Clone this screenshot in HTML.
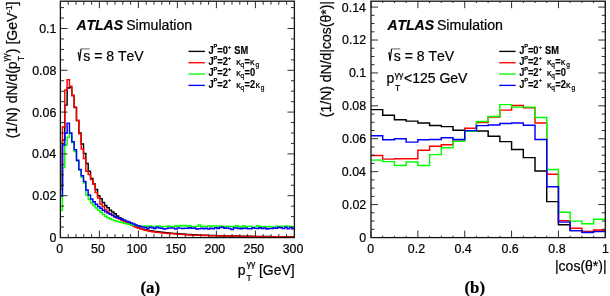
<!DOCTYPE html>
<html><head><meta charset="utf-8"><title>ATLAS spin plots</title><style>
html,body{margin:0;padding:0;background:#fff;width:610px;height:296px;overflow:hidden}
svg{display:block;will-change:transform}
text{font-family:"Liberation Sans",sans-serif;fill:#000;font-kerning:none;stroke:#000;stroke-width:0.22px}
.t{font-size:12.4px}
.ti{font-size:14px}
.lg{font-size:9.8px;font-weight:bold}
.h{fill:none;stroke-width:1.45px;stroke-linejoin:miter;stroke-linecap:butt}
.ax{fill:none;stroke:#111;stroke-width:1.3px}
.tk{fill:none;stroke:#222;stroke-width:0.95px}
</style></head><body>
<svg width="610" height="296" viewBox="0 0 610 296">
<path class="h" stroke="black" d="M60.1 186H62.44V140H64.78V105.1H67.12V88H69.46V87.5H71.8V95.5H74.14V107.6H76.48V120.5H78.82V133H81.16V144H83.5V153.5H85.84V163.5H88.18V171.3H90.52V178.4H92.86V184H95.2V189.5H97.54V195.7H99.88V198.7H102.22V202.4H104.56V205.4H106.9V207.8H109.24V210.3H111.58V211.98H113.92V213.82H116.26V215.95H118.6V217.69H120.94V219.08H123.28V220.4H125.62V221.66H127.96V222.89H130.3V224.13H132.64V225.43H134.98V226.66H137.32V227.64H139.66V228.44H142V229.13H144.34V229.71H146.68V230.22H149.02V230.68H151.36V231.08H153.7V231.44H156.04V231.75H158.38V232.03H160.72V232.3H163.06V232.54H165.4V232.76H167.74V232.98H170.08V233.18H172.42V233.37H174.76V233.56H177.1V233.74H179.44V233.91H181.78V234.08H184.12V234.25H186.46V234.4H188.8V234.55H191.14V234.68H193.48V234.81H195.82V234.92H198.16V235.02H200.5V235.12H202.84V235.21H205.18V235.3H207.52V235.38H209.86V235.45H212.2V235.52H214.54V235.59H216.88V235.65H219.22V235.71H221.56V235.77H223.9V235.83H226.24V235.89H228.58V235.94H230.92V235.99H233.26V236.04H235.6V236.08H237.94V236.13H240.28V236.17H242.62V236.21H244.96V236.24H247.3V236.28H249.64V236.32H251.98V236.35H254.32V236.39H256.66V236.42H259V236.45H261.34V236.49H263.68V236.52H266.02V236.55H268.36V236.58H270.7V236.61H273.04V236.63H275.38V236.66H277.72V236.68H280.06V236.7H282.4V236.73H284.74V236.75H287.08V236.76H289.42V236.78H291.76V236.79H294.1"/>
<path class="h" stroke="red" d="M60.1 189.4H62.44V126.9H64.78V90H67.12V79.75H69.46V86.25H71.8V95.5H74.14V106.9H76.48V120.5H78.82V133.75H81.16V149H83.5V158.5H85.84V171.3H88.18V174.5H90.52V179.6H92.86V184.3H95.2V192.5H97.54V198H99.88V204H102.22V206.6H104.56V210H106.9V212H109.24V213.73H111.58V215.31H113.92V216.72H116.26V217.91H118.6V219.1H120.94V220.3H123.28V221.52H125.62V222.75H127.96V223.94H130.3V225.04H132.64V226.08H134.98V227.05H137.32V227.94H139.66V228.78H142V229.55H144.34V230.2H146.68V230.75H149.02V231.24H151.36V231.67H153.7V232.04H156.04V232.35H158.38V232.62H160.72V232.88H163.06V233.11H165.4V233.32H167.74V233.51H170.08V233.7H172.42V233.87H174.76V234.04H177.1V234.2H179.44V234.35H181.78V234.5H184.12V234.64H186.46V234.77H188.8V234.9H191.14V235.01H193.48V235.12H195.82V235.22H198.16V235.3H200.5V235.39H202.84V235.46H205.18V235.53H207.52V235.6H209.86V235.67H212.2V235.73H214.54V235.79H216.88V235.85H219.22V235.91H221.56V235.97H223.9V236.03H226.24V236.09H228.58V236.14H230.92V236.19H233.26V236.24H235.6V236.29H237.94V236.33H240.28V236.37H242.62V236.41H244.96V236.44H247.3V236.47H249.64V236.5H251.98V236.54H254.32V236.57H256.66V236.6H259V236.63H261.34V236.66H263.68V236.68H266.02V236.71H268.36V236.74H270.7V236.76H273.04V236.78H275.38V236.8H277.72V236.82H280.06V236.84H282.4V236.86H284.74V236.87H287.08V236.88H289.42V236.89H291.76V236.9H294.1"/>
<path class="h" stroke="lime" d="M60.1 210.3H62.44V167.4H64.78V145H67.12V137.3H69.46V133.2H71.8V142.4H74.14V151.4H76.48V161.1H78.82V170H81.16V177.3H83.5V183H85.84V195H88.18V199.5H90.52V203H92.86V205.5H95.2V208H97.54V210.3H99.88V212.2H102.22V214.5H104.56V216.27H106.9V217.66H109.24V218.82H111.58V219.85H113.92V220.74H116.26V221.48H118.6V222.09H120.94V222.61H123.28V223.16H125.62V223.73H127.96V224.26H130.3V224.73H132.64V225.17H134.98V225.55H137.32V225.84H139.66V226.25H142V226.14H144.34V225.91H146.68V226.15H149.02V225.86H151.36V226.45H153.7V227.15H156.04V226.15H158.38V226.08H160.72V226.7H163.06V226.63H165.4V226.49H167.74V225.93H170.08V226.42H172.42V226.83H174.76V225.71H177.1V226.2H179.44V225.41H181.78V225.75H184.12V225.44H186.46V226.33H188.8V225.77H191.14V226.61H193.48V226.55H195.82V226.37H198.16V225.09H200.5V226.18H202.84V226.45H205.18V226.54H207.52V225.64H209.86V226.22H212.2V225.94H214.54V226.04H216.88V227.07H219.22V226.04H221.56V226.47H223.9V226.97H226.24V226.17H228.58V226.43H230.92V226.55H233.26V226.53H235.6V225.82H237.94V226.54H240.28V227.24H242.62V225.64H244.96V226.97H247.3V226.56H249.64V226.14H251.98V227.6H254.32V226.92H256.66V225.84H259V226.54H261.34V226.82H263.68V226.39H266.02V226.87H268.36V226.46H270.7V226.87H273.04V227.29H275.38V226.13H277.72V226.61H280.06V226.24H282.4V226.57H284.74V225.85H287.08V226.18H289.42V226.39H291.76V226.99H294.1"/>
<path class="h" stroke="blue" d="M60.1 195.9H62.44V144.9H64.78V133.2H67.12V123.1H69.46V133H71.8V141.7H74.14V149.8H76.48V160.3H78.82V169.5H81.16V175.7H83.5V181.4H85.84V190H88.18V195H90.52V199H92.86V201.8H95.2V204.2H97.54V206.4H99.88V208.3H102.22V210.3H104.56V211.86H106.9V213.12H109.24V214.3H111.58V215.54H113.92V216.67H116.26V217.56H118.6V218.45H120.94V219.35H123.28V220.25H125.62V221.14H127.96V222.04H130.3V222.97H132.64V223.96H134.98V224.92H137.32V225.72H139.66V226.46H142V227.12H144.34V227.56H146.68V228.41H149.02V227.24H151.36V227.67H153.7V228.54H156.04V227.11H158.38V227.96H160.72V228.17H163.06V228.92H165.4V228.62H167.74V228.07H170.08V228.05H172.42V228.12H174.76V229.11H177.1V228.04H179.44V228.11H181.78V228.48H184.12V228.23H186.46V228.19H188.8V227.69H191.14V228.3H193.48V228.07H195.82V228.96H198.16V228.69H200.5V228.32H202.84V228.7H205.18V228.15H207.52V228.92H209.86V228.34H212.2V228.67H214.54V227.64H216.88V228.55H219.22V227.43H221.56V227.24H223.9V228.2H226.24V227.87H228.58V228.46H230.92V229.61H233.26V227.92H235.6V228.04H237.94V228.49H240.28V228.65H242.62V228.29H244.96V228.27H247.3V228.77H249.64V228.68H251.98V227.82H254.32V228.35H256.66V228.41H259V227.81H261.34V228.54H263.68V227.92H266.02V228.93H268.36V228.5H270.7V228.45H273.04V228.07H275.38V228.33H277.72V227.3H280.06V227.78H282.4V228.6H284.74V227.23H287.08V228.87H289.42V227.44H291.76V228.82H294.1"/>
<path class="h" stroke="black" d="M371 109.6H382.71V115.2H394.43V119.7H406.14V121.1H417.86V123H429.57V125.4H441.29V126.6H453V130.2H464.72V130.8H476.44V130.9H488.15V136.3H499.87V141.6H511.58V149.4H523.3V157.6H535.01V170.9H546.73V201.6H558.44V224.7H570.15V230.6H581.87V231.4H593.59V231.2H605.3"/>
<path class="h" stroke="red" d="M371 155.5H382.71V159.1H394.43V158.7H406.14V158.7H417.86V150.2H429.57V146.3H441.29V144.7H453V139.8H464.72V128.2H476.44V122.5H488.15V117H499.87V110.1H511.58V105.5H523.3V107.7H535.01V122.9H546.73V174.2H558.44V220.7H570.15V228.2H581.87V231.6H593.59V230H605.3"/>
<path class="h" stroke="lime" d="M371 160.1H382.71V161.6H394.43V165.4H406.14V162H417.86V165.4H429.57V154.6H441.29V147.7H453V141.3H464.72V130.9H476.44V121.5H488.15V116.5H499.87V104.6H511.58V107.1H523.3V107.1H535.01V117.4H546.73V169.5H558.44V212.3H570.15V221.1H581.87V223.7H593.59V219.2H605.3"/>
<path class="h" stroke="blue" d="M371 135.8H382.71V139.7H394.43V138.8H406.14V142.1H417.86V139.7H429.57V139.4H441.29V137.8H453V139.4H464.72V130.6H476.44V125.6H488.15V124.9H499.87V123.5H511.58V123H523.3V125.3H535.01V139.4H546.73V186.8H558.44V222.1H570.15V230.6H581.87V232.5H593.59V231.6H605.3"/>
<rect class="ax" x="60.4" y="1.2" width="234" height="236.4"/>
<rect class="ax" x="371" y="1.2" width="234.3" height="236.4"/>
<path class="tk" d="M60.4 237.6V230.6M60.4 1.2V8.2M68.2 237.6V234.1M68.2 1.2V4.7M76 237.6V234.1M76 1.2V4.7M83.8 237.6V234.1M83.8 1.2V4.7M91.6 237.6V234.1M91.6 1.2V4.7M99.4 237.6V230.6M99.4 1.2V8.2M107.2 237.6V234.1M107.2 1.2V4.7M115 237.6V234.1M115 1.2V4.7M122.8 237.6V234.1M122.8 1.2V4.7M130.6 237.6V234.1M130.6 1.2V4.7M138.4 237.6V230.6M138.4 1.2V8.2M146.2 237.6V234.1M146.2 1.2V4.7M154 237.6V234.1M154 1.2V4.7M161.8 237.6V234.1M161.8 1.2V4.7M169.6 237.6V234.1M169.6 1.2V4.7M177.4 237.6V230.6M177.4 1.2V8.2M185.2 237.6V234.1M185.2 1.2V4.7M193 237.6V234.1M193 1.2V4.7M200.8 237.6V234.1M200.8 1.2V4.7M208.6 237.6V234.1M208.6 1.2V4.7M216.4 237.6V230.6M216.4 1.2V8.2M224.2 237.6V234.1M224.2 1.2V4.7M232 237.6V234.1M232 1.2V4.7M239.8 237.6V234.1M239.8 1.2V4.7M247.6 237.6V234.1M247.6 1.2V4.7M255.4 237.6V230.6M255.4 1.2V8.2M263.2 237.6V234.1M263.2 1.2V4.7M271 237.6V234.1M271 1.2V4.7M278.8 237.6V234.1M278.8 1.2V4.7M286.6 237.6V234.1M286.6 1.2V4.7M294.4 237.6V230.6M294.4 1.2V8.2M60.5 237.5H67.5M294.5 237.5H287.5M60.5 227.05H64M294.5 227.05H291M60.5 216.6H64M294.5 216.6H291M60.5 206.15H64M294.5 206.15H291M60.5 195.7H67.5M294.5 195.7H287.5M60.5 185.25H64M294.5 185.25H291M60.5 174.8H64M294.5 174.8H291M60.5 164.35H64M294.5 164.35H291M60.5 153.9H67.5M294.5 153.9H287.5M60.5 143.45H64M294.5 143.45H291M60.5 133H64M294.5 133H291M60.5 122.55H64M294.5 122.55H291M60.5 112.1H67.5M294.5 112.1H287.5M60.5 101.65H64M294.5 101.65H291M60.5 91.2H64M294.5 91.2H291M60.5 80.75H64M294.5 80.75H291M60.5 70.3H67.5M294.5 70.3H287.5M60.5 59.85H64M294.5 59.85H291M60.5 49.4H64M294.5 49.4H291M60.5 38.95H64M294.5 38.95H291M60.5 28.5H67.5M294.5 28.5H287.5M60.5 18.05H64M294.5 18.05H291M60.5 7.6H64M294.5 7.6H291"/>
<path class="tk" d="M371 237.6V230.6M371 1.2V8.2M382.71 237.6V235.8M382.71 1.2V3M394.43 237.6V235.8M394.43 1.2V3M406.14 237.6V235.8M406.14 1.2V3M417.86 237.6V230.6M417.86 1.2V8.2M429.57 237.6V235.8M429.57 1.2V3M441.29 237.6V235.8M441.29 1.2V3M453 237.6V235.8M453 1.2V3M464.72 237.6V230.6M464.72 1.2V8.2M476.44 237.6V235.8M476.44 1.2V3M488.15 237.6V235.8M488.15 1.2V3M499.87 237.6V235.8M499.87 1.2V3M511.58 237.6V230.6M511.58 1.2V8.2M523.3 237.6V235.8M523.3 1.2V3M535.01 237.6V235.8M535.01 1.2V3M546.73 237.6V235.8M546.73 1.2V3M558.44 237.6V230.6M558.44 1.2V8.2M570.15 237.6V235.8M570.15 1.2V3M581.87 237.6V235.8M581.87 1.2V3M593.59 237.6V235.8M593.59 1.2V3M605.3 237.6V230.6M605.3 1.2V8.2M371 237.5H378M605.3 237.5H598.3M371 229.27H374.5M605.3 229.27H601.8M371 221.04H374.5M605.3 221.04H601.8M371 212.81H374.5M605.3 212.81H601.8M371 204.59H378M605.3 204.59H598.3M371 196.36H374.5M605.3 196.36H601.8M371 188.13H374.5M605.3 188.13H601.8M371 179.9H374.5M605.3 179.9H601.8M371 171.67H378M605.3 171.67H598.3M371 163.44H374.5M605.3 163.44H601.8M371 155.21H374.5M605.3 155.21H601.8M371 146.99H374.5M605.3 146.99H601.8M371 138.76H378M605.3 138.76H598.3M371 130.53H374.5M605.3 130.53H601.8M371 122.3H374.5M605.3 122.3H601.8M371 114.07H374.5M605.3 114.07H601.8M371 105.84H378M605.3 105.84H598.3M371 97.62H374.5M605.3 97.62H601.8M371 89.39H374.5M605.3 89.39H601.8M371 81.16H374.5M605.3 81.16H601.8M371 72.93H378M605.3 72.93H598.3M371 64.7H374.5M605.3 64.7H601.8M371 56.47H374.5M605.3 56.47H601.8M371 48.24H374.5M605.3 48.24H601.8M371 40.02H378M605.3 40.02H598.3M371 31.79H374.5M605.3 31.79H601.8M371 23.56H374.5M605.3 23.56H601.8M371 15.33H374.5M605.3 15.33H601.8M371 7.1H378M605.3 7.1H598.3"/>
<text class="t" x="56.35" y="252.6">0</text>
<text class="t" x="91.1" y="252.6">50</text>
<text class="t" x="126.43" y="252.6">100</text>
<text class="t" x="165.43" y="252.6">150</text>
<text class="t" x="204.59" y="252.6">200</text>
<text class="t" x="243.59" y="252.6">250</text>
<text class="t" x="282.66" y="252.6">300</text>
<text class="t" x="49.39" y="241.95">0</text>
<text class="t" x="32.29" y="200.15">0.02</text>
<text class="t" x="32.03" y="158.35">0.04</text>
<text class="t" x="32.21" y="116.55">0.06</text>
<text class="t" x="32.2" y="74.75">0.08</text>
<text class="t" x="39.17" y="32.95">0.1</text>
<text class="t" x="367.25" y="252.6">0</text>
<text class="t" x="407.81" y="252.6">0.2</text>
<text class="t" x="454.54" y="252.6">0.4</text>
<text class="t" x="501.49" y="252.6">0.6</text>
<text class="t" x="548.35" y="252.6">0.8</text>
<text class="t" x="601.98" y="252.6">1</text>
<text class="t" x="359.19" y="241.95">0</text>
<text class="t" x="342.09" y="209.04">0.02</text>
<text class="t" x="341.83" y="176.12">0.04</text>
<text class="t" x="342.01" y="143.21">0.06</text>
<text class="t" x="342" y="110.29">0.08</text>
<text class="t" x="348.97" y="77.38">0.1</text>
<text class="t" x="342.09" y="44.47">0.12</text>
<text class="t" x="341.83" y="11.55">0.14</text>
<g transform="translate(17.3,1.5) rotate(-90)"><text font-size="14" x="-136.86" y="0">(1/N) dN/d(p</text><text font-size="8.2" x="-59.54" y="6.6">T</text><text font-size="8.2" x="-60.04" y="-8.6">&#947;&#947;</text><text font-size="14" x="-51.64" y="0">) [GeV</text><text font-size="8.2" x="-11.18" y="-5.6">-1</text><text font-size="14" x="-3.89" y="0">]</text></g>
<text font-size="14" transform="translate(330.5,1) rotate(-90)" text-anchor="end">(1/N) dN/d|cos(&#952;*)|</text>
<text font-size="14" x="237.8" y="274.9">p</text><text font-size="8.6" x="246.49" y="281.2">T</text><text font-size="8.6" x="246.69" y="267">&#947;&#947;</text><text font-size="14" x="258.88" y="274.9">[GeV]</text>
<text font-size="14" x="606.6" y="271.4" text-anchor="end">|cos(&#952;*)|</text>
<text x="76.4" y="29.9" font-size="14" font-weight="bold" font-style="italic">ATLAS</text>
<text x="126.2" y="29.9" font-size="14.15">Simulation</text>
<path d="M77.7 53.6 L78.6 52.9 L79.5 61 L81.1 48.9" fill="none" stroke="#000" stroke-width="1.15" stroke-linejoin="miter"/>
<path d="M80.9 48.9 H89.8" fill="none" stroke="#555" stroke-width="0.9"/>
<text x="83.3" y="60.6" font-size="14">s = 8 TeV</text>
<text x="387.4" y="29.9" font-size="14" font-weight="bold" font-style="italic">ATLAS</text>
<text x="436.9" y="29.9" font-size="14.15">Simulation</text>
<path d="M388.2 53.6 L389.1 52.9 L390 61 L391.6 48.9" fill="none" stroke="#000" stroke-width="1.15" stroke-linejoin="miter"/>
<path d="M391.4 48.9 H400.3" fill="none" stroke="#555" stroke-width="0.9"/>
<text x="393.8" y="60.6" font-size="14">s = 8 TeV</text>
<text font-size="14" x="386.4" y="83.4">p</text><text font-size="8.6" x="395.09" y="90.6">T</text><text font-size="8.6" x="394.79" y="77.5">&#947;&#947;</text><text font-size="14" x="403.99" y="83.4">&lt;125 GeV</text>
<path d="M188.5 51.4H204.9" stroke="black" stroke-width="1.35" fill="none"/>
<text transform="translate(208.56 53.8) scale(0.877 1)" style="font-weight:bold;stroke:#000;stroke-width:0.18px;font-size:10.6px">J</text><text transform="translate(213.62 48.2) scale(0.95 1)" style="font-weight:bold;stroke:#000;stroke-width:0.18px;font-size:6.0px">P</text><text transform="translate(217.21 53.8) scale(0.877 1)" style="font-weight:bold;stroke:#000;stroke-width:0.18px;font-size:10.6px">=0</text><text transform="translate(227.97 48.5) scale(0.95 1)" style="font-weight:bold;stroke:#000;stroke-width:0.18px;font-size:5.8px">+</text><text transform="translate(234.33 53.8) scale(0.877 1)" style="font-weight:bold;stroke:#000;stroke-width:0.18px;font-size:10.6px">SM</text>
<path d="M188.5 62.73H204.9" stroke="red" stroke-width="1.35" fill="none"/>
<text transform="translate(208.56 65.13) scale(0.877 1)" style="font-weight:bold;stroke:#000;stroke-width:0.18px;font-size:10.6px">J</text><text transform="translate(213.62 59.53) scale(0.95 1)" style="font-weight:bold;stroke:#000;stroke-width:0.18px;font-size:6.0px">P</text><text transform="translate(217.21 65.13) scale(0.877 1)" style="font-weight:bold;stroke:#000;stroke-width:0.18px;font-size:10.6px">=2</text><text transform="translate(227.97 59.83) scale(0.95 1)" style="font-weight:bold;stroke:#000;stroke-width:0.18px;font-size:5.8px">+</text><text transform="translate(236.3 65.13) scale(1 1)" style="font-size:9.0px">&#954;</text><text transform="translate(240.62 67.13) scale(1 1)" style="font-size:6.6px">q</text><text transform="translate(244.61 65.13) scale(0.877 1)" style="font-weight:bold;stroke:#000;stroke-width:0.18px;font-size:10.6px">=</text><text transform="translate(250 65.13) scale(1 1)" style="font-size:9.0px">&#954;</text><text transform="translate(255.52 67.13) scale(1 1)" style="font-size:6.6px">g</text>
<path d="M188.5 74.06H204.9" stroke="lime" stroke-width="1.35" fill="none"/>
<text transform="translate(208.56 76.46) scale(0.877 1)" style="font-weight:bold;stroke:#000;stroke-width:0.18px;font-size:10.6px">J</text><text transform="translate(213.62 70.86) scale(0.95 1)" style="font-weight:bold;stroke:#000;stroke-width:0.18px;font-size:6.0px">P</text><text transform="translate(217.21 76.46) scale(0.877 1)" style="font-weight:bold;stroke:#000;stroke-width:0.18px;font-size:10.6px">=2</text><text transform="translate(227.97 71.16) scale(0.95 1)" style="font-weight:bold;stroke:#000;stroke-width:0.18px;font-size:5.8px">+</text><text transform="translate(236.3 76.46) scale(1 1)" style="font-size:9.0px">&#954;</text><text transform="translate(240.62 78.46) scale(1 1)" style="font-size:6.6px">q</text><text transform="translate(244.61 76.46) scale(0.877 1)" style="font-weight:bold;stroke:#000;stroke-width:0.18px;font-size:10.6px">=0</text>
<path d="M188.5 85.39H204.9" stroke="blue" stroke-width="1.35" fill="none"/>
<text transform="translate(208.56 87.79) scale(0.877 1)" style="font-weight:bold;stroke:#000;stroke-width:0.18px;font-size:10.6px">J</text><text transform="translate(213.62 82.19) scale(0.95 1)" style="font-weight:bold;stroke:#000;stroke-width:0.18px;font-size:6.0px">P</text><text transform="translate(217.21 87.79) scale(0.877 1)" style="font-weight:bold;stroke:#000;stroke-width:0.18px;font-size:10.6px">=2</text><text transform="translate(227.97 82.49) scale(0.95 1)" style="font-weight:bold;stroke:#000;stroke-width:0.18px;font-size:5.8px">+</text><text transform="translate(236.3 87.79) scale(1 1)" style="font-size:9.0px">&#954;</text><text transform="translate(240.62 89.79) scale(1 1)" style="font-size:6.6px">q</text><text transform="translate(244.61 87.79) scale(0.877 1)" style="font-weight:bold;stroke:#000;stroke-width:0.18px;font-size:10.6px">=2</text><text transform="translate(255.4 87.79) scale(1 1)" style="font-size:9.0px">&#954;</text><text transform="translate(260.72 89.79) scale(1 1)" style="font-size:6.6px">g</text>
<path d="M499.2 51.4H515.6" stroke="black" stroke-width="1.35" fill="none"/>
<text transform="translate(519.26 53.8) scale(0.877 1)" style="font-weight:bold;stroke:#000;stroke-width:0.18px;font-size:10.6px">J</text><text transform="translate(524.32 48.2) scale(0.95 1)" style="font-weight:bold;stroke:#000;stroke-width:0.18px;font-size:6.0px">P</text><text transform="translate(527.91 53.8) scale(0.877 1)" style="font-weight:bold;stroke:#000;stroke-width:0.18px;font-size:10.6px">=0</text><text transform="translate(538.67 48.5) scale(0.95 1)" style="font-weight:bold;stroke:#000;stroke-width:0.18px;font-size:5.8px">+</text><text transform="translate(545.03 53.8) scale(0.877 1)" style="font-weight:bold;stroke:#000;stroke-width:0.18px;font-size:10.6px">SM</text>
<path d="M499.2 62.73H515.6" stroke="red" stroke-width="1.35" fill="none"/>
<text transform="translate(519.26 65.13) scale(0.877 1)" style="font-weight:bold;stroke:#000;stroke-width:0.18px;font-size:10.6px">J</text><text transform="translate(524.32 59.53) scale(0.95 1)" style="font-weight:bold;stroke:#000;stroke-width:0.18px;font-size:6.0px">P</text><text transform="translate(527.91 65.13) scale(0.877 1)" style="font-weight:bold;stroke:#000;stroke-width:0.18px;font-size:10.6px">=2</text><text transform="translate(538.67 59.83) scale(0.95 1)" style="font-weight:bold;stroke:#000;stroke-width:0.18px;font-size:5.8px">+</text><text transform="translate(547 65.13) scale(1 1)" style="font-size:9.0px">&#954;</text><text transform="translate(551.32 67.13) scale(1 1)" style="font-size:6.6px">q</text><text transform="translate(555.31 65.13) scale(0.877 1)" style="font-weight:bold;stroke:#000;stroke-width:0.18px;font-size:10.6px">=</text><text transform="translate(560.7 65.13) scale(1 1)" style="font-size:9.0px">&#954;</text><text transform="translate(566.22 67.13) scale(1 1)" style="font-size:6.6px">g</text>
<path d="M499.2 74.06H515.6" stroke="lime" stroke-width="1.35" fill="none"/>
<text transform="translate(519.26 76.46) scale(0.877 1)" style="font-weight:bold;stroke:#000;stroke-width:0.18px;font-size:10.6px">J</text><text transform="translate(524.32 70.86) scale(0.95 1)" style="font-weight:bold;stroke:#000;stroke-width:0.18px;font-size:6.0px">P</text><text transform="translate(527.91 76.46) scale(0.877 1)" style="font-weight:bold;stroke:#000;stroke-width:0.18px;font-size:10.6px">=2</text><text transform="translate(538.67 71.16) scale(0.95 1)" style="font-weight:bold;stroke:#000;stroke-width:0.18px;font-size:5.8px">+</text><text transform="translate(547 76.46) scale(1 1)" style="font-size:9.0px">&#954;</text><text transform="translate(551.32 78.46) scale(1 1)" style="font-size:6.6px">q</text><text transform="translate(555.31 76.46) scale(0.877 1)" style="font-weight:bold;stroke:#000;stroke-width:0.18px;font-size:10.6px">=0</text>
<path d="M499.2 85.39H515.6" stroke="blue" stroke-width="1.35" fill="none"/>
<text transform="translate(519.26 87.79) scale(0.877 1)" style="font-weight:bold;stroke:#000;stroke-width:0.18px;font-size:10.6px">J</text><text transform="translate(524.32 82.19) scale(0.95 1)" style="font-weight:bold;stroke:#000;stroke-width:0.18px;font-size:6.0px">P</text><text transform="translate(527.91 87.79) scale(0.877 1)" style="font-weight:bold;stroke:#000;stroke-width:0.18px;font-size:10.6px">=2</text><text transform="translate(538.67 82.49) scale(0.95 1)" style="font-weight:bold;stroke:#000;stroke-width:0.18px;font-size:5.8px">+</text><text transform="translate(547 87.79) scale(1 1)" style="font-size:9.0px">&#954;</text><text transform="translate(551.32 89.79) scale(1 1)" style="font-size:6.6px">q</text><text transform="translate(555.31 87.79) scale(0.877 1)" style="font-weight:bold;stroke:#000;stroke-width:0.18px;font-size:10.6px">=2</text><text transform="translate(566.1 87.79) scale(1 1)" style="font-size:9.0px">&#954;</text><text transform="translate(571.42 89.79) scale(1 1)" style="font-size:6.6px">g</text>
<text x="150.2" y="292.5" font-size="16.8" font-weight="bold" text-anchor="middle" style="font-family:'Liberation Serif',serif">(a)</text>
<text x="474.8" y="292.5" font-size="16.8" font-weight="bold" text-anchor="middle" style="font-family:'Liberation Serif',serif">(b)</text>
</svg>
</body></html>
